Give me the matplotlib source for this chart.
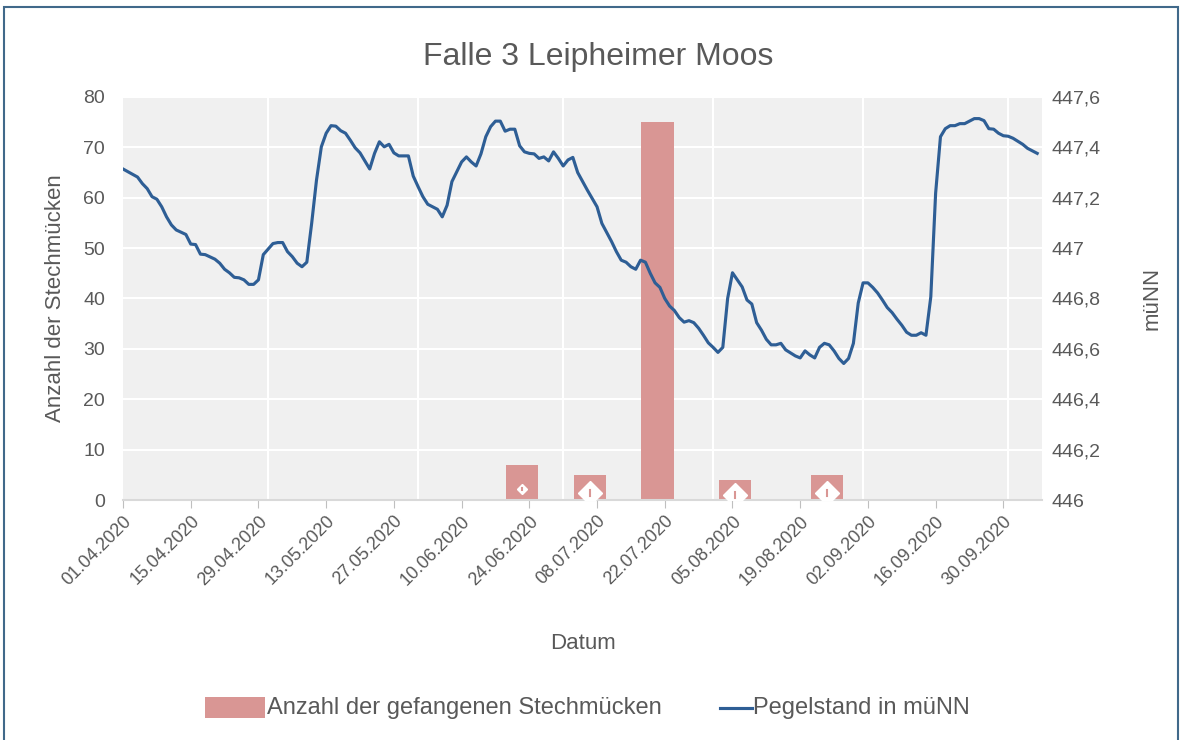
import matplotlib
matplotlib.use('Agg')

from matplotlib import pyplot as plt
from matplotlib.lines import Line2D
from matplotlib.patches import Rectangle
import matplotlib.dates as mdates
import numpy as np

plt.rcParams['font.family'] = ['Liberation Sans', 'DejaVu Sans']

# Start of the time axis
start_date = np.datetime64('2020-04-01')
end_date = np.datetime64('2020-10-08')

# Trap catches (weekly bars)
bar_dates = ['2020-06-22', '2020-07-06', '2020-07-20', '2020-08-05', '2020-08-24']
bar_counts = [7, 5, 75, 4, 5]

# White diamond markers sitting on the small bars (value, marker size)
marker_values = [2.2, 1.4, np.nan, 1.0, 1.4]
marker_sizes = [5, 12, 0, 12, 12]

# Water level, days after 01.04.2020 and level in m uNN
pegel_day = [0, 3, 4, 5, 6, 7, 8, 9, 10, 11, 13, 14, 15, 16, 17, 19, 20, 21, 22, 23,
             24, 25, 26, 27, 28, 29, 30, 31, 32, 33, 34, 35, 36, 37, 38, 39, 40, 41, 42, 43,
             44, 45, 46, 47, 48, 49, 50, 51, 52, 53, 54, 55, 56, 57, 58, 59, 60, 61, 62, 63,
             65, 66, 67, 68, 70, 71, 72, 73, 74, 75, 76, 77, 78, 79, 80, 81, 82, 83, 84, 85,
             86, 87, 88, 89, 90, 91, 92, 93, 94, 96, 98, 99, 101, 102, 103, 104, 105, 106, 107, 108,
             109, 110, 111, 112, 113, 114, 115, 116, 117, 118, 119, 120, 121, 122, 123, 124, 125, 126, 128, 129,
             130, 131, 132, 133, 134, 135, 136, 137, 138, 139, 140, 141, 142, 143, 144, 145, 146, 147, 148, 149,
             150, 151, 152, 153, 154, 155, 156, 157, 158, 159, 160, 161, 162, 163, 164, 165, 166, 167, 168, 169,
             170, 171, 172, 173, 174, 175, 176, 177, 178, 179, 180, 181, 182, 183, 184, 185, 186, 187, 188, 189]
pegel = [447.314, 447.282, 447.256, 447.236, 447.204, 447.194, 447.164, 447.124, 447.092, 447.072,
         447.054, 447.016, 447.014, 446.976, 446.974, 446.956, 446.940, 446.916, 446.902, 446.884,
         446.882, 446.874, 446.856, 446.856, 446.874, 446.974, 446.996, 447.018, 447.022, 447.022,
         446.986, 446.966, 446.940, 446.926, 446.944, 447.098, 447.270, 447.402, 447.456, 447.486,
         447.484, 447.466, 447.456, 447.428, 447.398, 447.378, 447.346, 447.314, 447.376, 447.422,
         447.402, 447.412, 447.378, 447.366, 447.366, 447.366, 447.286, 447.244, 447.204, 447.174,
         447.154, 447.124, 447.170, 447.264, 447.342, 447.362, 447.342, 447.326, 447.374, 447.442,
         447.482, 447.504, 447.504, 447.464, 447.472, 447.472, 447.406, 447.382, 447.376, 447.374,
         447.356, 447.362, 447.346, 447.382, 447.356, 447.326, 447.350, 447.360, 447.300, 447.230,
         447.164, 447.098, 447.026, 446.986, 446.952, 446.944, 446.926, 446.916, 446.952, 446.944,
         446.900, 446.862, 446.844, 446.800, 446.770, 446.752, 446.724, 446.706, 446.712, 446.704,
         446.682, 446.654, 446.624, 446.606, 446.586, 446.606, 446.800, 446.902, 446.846, 446.794,
         446.778, 446.704, 446.674, 446.638, 446.616, 446.616, 446.622, 446.596, 446.584, 446.572,
         446.564, 446.592, 446.576, 446.564, 446.606, 446.622, 446.616, 446.592, 446.562, 446.542,
         446.562, 446.622, 446.782, 446.862, 446.862, 446.844, 446.822, 446.794, 446.764, 446.744,
         446.718, 446.694, 446.666, 446.654, 446.654, 446.664, 446.654, 446.806, 447.218, 447.442,
         447.474, 447.486, 447.486, 447.494, 447.494, 447.504, 447.514, 447.514, 447.506, 447.474,
         447.472, 447.456, 447.446, 447.444, 447.436, 447.424, 447.412, 447.396, 447.386, 447.376]

# Colours
bar_color = '#D99694'
line_color = '#2E5E95'
text_color = '#595959'
frame_color = '#41698A'

fig = plt.figure(figsize=(11.84, 7.4), dpi=100)
fig.patches.append(Rectangle((0.003, -0.01), 0.992, 1.0, transform=fig.transFigure,
                             fill=False, edgecolor=frame_color, linewidth=1.5))

ax = fig.add_axes([0.1039, 0.3243, 0.7762, 0.5447])
ax.set_facecolor('#F0F0F0')
ax.set_axisbelow(True)

# Bars
bar_x = np.array(bar_dates, dtype='datetime64[D]') + np.timedelta64(12, 'h')
bar_x = mdates.date2num(bar_x.astype('datetime64[h]'))
ax.bar(bar_x, bar_counts, width=6.7, color=bar_color, zorder=2)

# Diamond markers on the small bars
for x, v, s in zip(bar_x, marker_values, marker_sizes):
    if np.isnan(v):
        continue
    ax.plot(x, v, marker='D', color='white', markersize=s, zorder=3)
    ax.plot([x, x], [v - s / 20.0, v + s / 20.0], color=bar_color, linewidth=1.5, zorder=4)

ax.set_ylim(0, 80)
ax.set_yticks(np.arange(0, 81, 10))
ax.set_xlim(mdates.date2num(start_date), mdates.date2num(end_date))

# Dates every 14 days, gridlines at month starts
tick_dates = np.arange(start_date, np.datetime64('2020-10-01'), 14)
ax.set_xticks(mdates.date2num(tick_dates))
ax.xaxis.set_major_formatter(mdates.DateFormatter('%d.%m.%Y'))
ax.xaxis.set_minor_locator(mdates.MonthLocator())
ax.grid(which='minor', axis='x', color='white', linewidth=1.5)
ax.grid(which='major', axis='y', color='white', linewidth=1.5)
ax.tick_params(axis='x', which='major', length=6, color='#BFBFBF', labelsize=13,
               labelcolor=text_color, pad=3)
ax.tick_params(axis='x', which='minor', length=0)
ax.tick_params(axis='y', length=0, labelsize=14, labelcolor=text_color, pad=13)
for lbl in ax.get_xticklabels():
    lbl.set_rotation(45)
    lbl.set_ha('right')
    lbl.set_va('top')
    lbl.set_rotation_mode('anchor')

for s in ['top', 'right', 'left']:
    ax.spines[s].set_visible(False)
ax.spines['bottom'].set_color('#D9D9D9')
ax.spines['bottom'].set_linewidth(1.5)

ax.set_xlabel('Datum', fontsize=16, color=text_color)
ax.xaxis.set_label_coords(0.5, -0.33)
ax.set_ylabel('Anzahl der Stechmücken', fontsize=16, color=text_color)
ax.yaxis.set_label_coords(-0.062, 0.5)

# Water level on secondary axis
ax2 = ax.twinx()
ax2.plot(mdates.date2num(start_date + np.array(pegel_day)), pegel,
         color=line_color, linewidth=2.25, zorder=5)
ax2.set_ylim(446, 447.6)
ax2.set_yticks(np.arange(446, 447.61, 0.2))
ax2.set_yticklabels([('%g' % round(v, 1)).replace('.', ',') for v in np.arange(446, 447.61, 0.2)])
ax2.tick_params(axis='y', length=0, labelsize=14, labelcolor=text_color, pad=7)
for s in ['top', 'right', 'left', 'bottom']:
    ax2.spines[s].set_visible(False)
ax2.set_ylabel('müNN', fontsize=16, color=text_color)
ax2.yaxis.set_label_coords(1.108, 0.5)

fig.text(0.505, 0.923, 'Falle 3 Leipheimer Moos', ha='center', va='center',
         fontsize=23, color=text_color)

# Legend drawn at the bottom
fig.patches.append(Rectangle((205 / 1184, 1 - 718 / 740), 60 / 1184, 21 / 740,
                             transform=fig.transFigure, facecolor=bar_color, edgecolor='none'))
fig.text(267 / 1184, 1 - 708 / 740, 'Anzahl der gefangenen Stechmücken', ha='left', va='center',
         fontsize=17, color=text_color)
fig.lines.append(Line2D([720 / 1184, 752 / 1184], [1 - 708 / 740, 1 - 708 / 740],
                        transform=fig.transFigure, color=line_color, linewidth=2.25))
fig.text(753 / 1184, 1 - 708 / 740, 'Pegelstand in müNN', ha='left', va='center',
         fontsize=17, color=text_color)

plt.savefig('out.png', dpi=100)
plt.close()
